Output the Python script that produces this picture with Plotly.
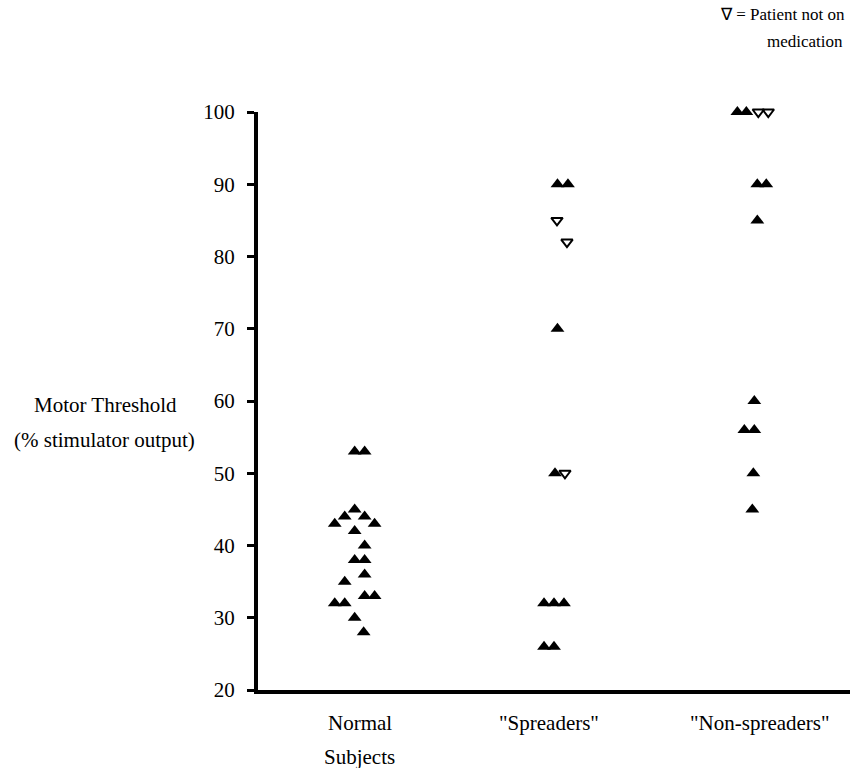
import plotly.graph_objects as go

# Motor threshold (% stimulator output) per subject, with the horizontal slot
# each marker occupies inside its group column.
groups = ["Normal", "Spreaders", "Non-spreaders"]
group_labels = ["Normal", "\"Spreaders\"", "\"Non-spreaders\""]

normal_values = [53, 53, 45, 44, 44, 43, 43, 42, 40, 38, 38, 36, 35, 33, 33, 32, 32, 30, 28]
normal_slots = [0, 1, 0, -1, 1, -2, 2, 0, 1, 0, 1, 1, -1, 1, 2, -2, -1, 0, 0.9]

spreader_on_values = [90, 90, 70, 50, 32, 32, 32, 26, 26]
spreader_on_slots = [0.35, 1.4, 0.35, 0.1, -1, 0, 1, -1, 0]
spreader_off_values = [85, 82, 50]
spreader_off_slots = [0.3, 1.3, 1.1]

nonspreader_on_values = [100, 100, 90, 90, 85, 60, 56, 56, 50, 45]
nonspreader_on_slots = [-1.6, -0.7, 0.4, 1.3, 0.4, 0.1, -0.9, 0.1, 0, -0.1]
nonspreader_off_values = [100, 100]
nonspreader_off_slots = [0.5, 1.5]

y_ticks = [20, 30, 40, 50, 60, 70, 80, 90, 100]

SLOT = 0.05  # width of one marker slot in x-axis units
FONT = "Times New Roman"
W, H = 850, 768
L, R, T, B = 258, 0, 112, 78
PW, PH = W - L - R, H - T - B


def xs(group_index, slots):
    return [group_index + 1 + s * SLOT for s in slots]


def px_to_paper(px, py):
    return (px - L) / PW, (H - B - py) / PH


fig = go.Figure()

filled = dict(symbol="triangle-up", size=12, color="black", line=dict(width=0))
hollow = dict(symbol="triangle-down-open", size=10, color="black", line=dict(width=2, color="black"))

fig.add_trace(go.Scatter(x=xs(0, normal_slots), y=normal_values, mode="markers",
                         marker=filled, cliponaxis=False, showlegend=False))
fig.add_trace(go.Scatter(x=xs(1, spreader_on_slots), y=spreader_on_values, mode="markers",
                         marker=filled, cliponaxis=False, showlegend=False))
fig.add_trace(go.Scatter(x=xs(1, spreader_off_slots), y=spreader_off_values, mode="markers",
                         marker=hollow, cliponaxis=False, showlegend=False))
fig.add_trace(go.Scatter(x=xs(2, nonspreader_on_slots), y=nonspreader_on_values, mode="markers",
                         marker=filled, cliponaxis=False, showlegend=False))
fig.add_trace(go.Scatter(x=xs(2, nonspreader_off_slots), y=nonspreader_off_values, mode="markers",
                         marker=hollow, cliponaxis=False, showlegend=False))

text_font = dict(family=FONT, size=21, color="black")

# Group labels under the x axis
label_x = [1.025, 1.975, 3.035]
for gx, lab in zip(label_x, group_labels):
    fig.add_annotation(x=gx, y=0, xref="x", yref="paper", yshift=-33, text=lab,
                       xanchor="center", yanchor="middle", showarrow=False, font=text_font)
fig.add_annotation(x=label_x[0], y=0, xref="x", yref="paper", yshift=-67, text="Subjects",
                   xanchor="center", yanchor="middle", showarrow=False, font=text_font)

# Y axis title, two lines
for text, cx, cy in [("Motor Threshold", 105, 405), ("(% stimulator output)", 104, 440)]:
    ax, ay = px_to_paper(cx, cy)
    fig.add_annotation(x=ax, y=ay, xref="paper", yref="paper", text=text,
                       xanchor="center", yanchor="middle", showarrow=False, font=text_font)

# Key for the open symbol
for text, cx, cy in [("\u2207 = Patient not on", 782, 15), ("medication", 805, 42)]:
    ax, ay = px_to_paper(cx, cy)
    fig.add_annotation(x=ax, y=ay, xref="paper", yref="paper", text=text,
                       xanchor="center", yanchor="middle", showarrow=False,
                       font=dict(family=FONT, size=17, color="black"))

fig.update_layout(
    width=W, height=H,
    margin=dict(l=L, r=R, t=T, b=B),
    paper_bgcolor="white", plot_bgcolor="white",
    font=dict(family=FONT, color="black"),
    showlegend=False,
    xaxis=dict(range=[0.515, 3.485], showgrid=False, zeroline=False, showticklabels=False,
               ticks="", showline=True, linecolor="black", linewidth=4, fixedrange=True),
    yaxis=dict(range=[20, 100], tickvals=y_ticks, showgrid=False, zeroline=False,
               showline=True, linecolor="black", linewidth=4, ticks="outside",
               ticklen=7, tickwidth=3, tickcolor="black", ticklabelstandoff=8,
               tickfont=dict(family=FONT, size=21, color="black")),
)

fig.write_html("out.html")
